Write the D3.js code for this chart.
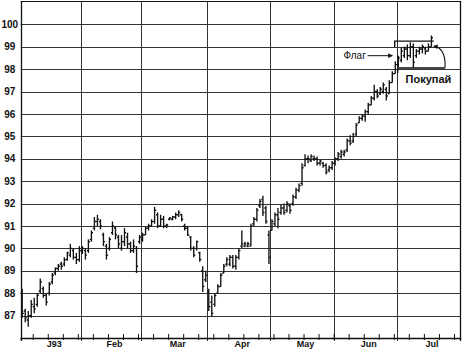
<!DOCTYPE html>
<html>
<head>
<meta charset="utf-8">
<script src="https://cdn.jsdelivr.net/npm/d3@7"></script>
<style>
  body { margin: 0; background: #fff; }
  svg { display: block; font-family: "Liberation Sans", Arial, sans-serif; }
</style>
</head>
<body>
<svg class="main" width="464" height="352"></svg>
<script>
var main = d3.select(".main");

var months = ["J93", "Feb", "Mar", "Apr", "May", "Jun", "Jul"];
var monthDays = [20, 20, 22, 21, 21, 21, 21];
var priceTicks = [87, 88, 89, 90, 91, 92, 93, 94, 95, 96, 97, 98, 99, 100];

// daily bars, one per trading day from early Jan
var highs = [
  88.2, 87.3, 87.2, 87.7, 87.8, 88.0, 88.65, 88.3, 88.0, 88.5,
  88.9, 89.15, 89.3, 89.4, 89.6, 89.85, 90.2, 90.0, 89.8, 90.1,
  90.1, 90.0, 90.4, 90.8, 91.4, 91.5, 91.3, 90.7, 90.2, 90.5,
  91.2, 91.0, 90.6, 90.6, 90.9, 90.7, 90.3, 90.4, 90.1, 90.6,
  90.7, 90.95, 91.1, 91.3, 91.85, 91.6, 91.5, 91.45, 91.1, 91.4,
  91.45, 91.6, 91.7, 91.55, 91.1, 91.0, 90.55, 90.1, 90.35, 89.85,
  89.2, 89.0, 88.2, 87.9, 88.0, 88.4, 88.9, 89.3, 89.6, 89.7,
  89.7, 89.7, 90.0, 90.8, 90.3, 90.3, 91.1, 91.4, 91.8, 92.2,
  92.35, 91.9, 90.8, 91.3, 91.6, 91.8, 91.95, 92.0, 92.1, 92.0,
  92.4, 92.7, 92.9, 93.8, 94.2, 94.15, 94.2, 94.15, 94.1, 93.95,
  93.85, 93.8, 93.7, 93.9, 94.05, 94.3, 94.4, 94.4, 94.9, 95.05,
  95.15, 95.6, 95.9, 96.0, 96.2, 96.5, 96.8, 97.3, 97.1, 97.2,
  97.4, 97.2, 97.5, 97.9, 98.35, 98.6, 98.95, 99.0, 99.1, 99.2,
  99.15, 98.9, 99.0, 99.1, 99.0, 99.15, 99.5
];
var lows = [
  86.9, 86.7, 86.5, 86.9, 87.1, 87.4, 88.0, 87.8, 87.45, 87.9,
  88.4, 88.8, 89.0, 89.05, 89.2, 89.45, 89.6, 89.5, 89.3, 89.4,
  89.75, 89.5, 89.8, 90.3, 90.8, 91.0, 90.85, 90.1, 89.5, 89.9,
  90.6, 90.4, 90.0, 89.9, 90.1, 90.0, 89.8, 89.8, 88.9, 90.2,
  90.3, 90.6, 90.8, 91.0, 91.1, 90.9, 90.95, 90.9, 90.9, 91.25,
  91.25, 91.3, 91.4, 91.2, 90.8, 90.55, 89.9, 89.6, 89.9, 89.4,
  88.05, 88.5, 87.2, 86.95, 87.4, 88.0, 88.3, 88.9, 89.2, 89.2,
  89.1, 89.05, 89.5, 90.0, 90.05, 90.05, 90.1, 91.0, 91.2, 91.8,
  91.45, 91.1, 89.3, 90.8, 91.0, 90.9, 91.5, 91.5, 91.6, 91.55,
  91.9, 92.2, 92.5, 92.8, 93.65, 93.8, 93.85, 93.9, 93.7, 93.7,
  93.6, 93.3, 93.4, 93.5, 93.7, 93.9, 94.0, 94.1, 94.3, 94.6,
  94.7, 95.0, 95.6, 95.7, 95.65, 96.0, 96.4, 96.6, 96.7, 96.85,
  96.9, 96.6, 96.9, 97.4, 97.8, 98.1, 98.3, 98.5, 98.4, 98.5,
  98.05, 98.5, 98.65, 98.7, 98.65, 98.8, 99.0
];
var opens = [
  88.0, 87.2, 86.8, 87.0, 87.4, 87.5, 88.1, 88.2, 87.9, 88.0,
  88.5, 88.9, 89.1, 89.3, 89.3, 89.5, 89.7, 89.9, 89.6, 89.5,
  89.9, 89.9, 89.9, 90.4, 90.9, 91.2, 91.2, 90.6, 90.1, 90.0,
  90.7, 90.9, 90.5, 90.0, 90.3, 90.5, 90.2, 89.9, 90.0, 90.3,
  90.4, 90.6, 90.9, 91.0, 91.2, 91.5, 91.0, 91.3, 91.0, 91.3,
  91.3, 91.4, 91.5, 91.5, 91.0, 90.9, 90.5, 90.0, 90.0, 89.8,
  89.0, 88.6, 88.0, 87.6, 87.5, 88.0, 88.3, 88.9, 89.3, 89.3,
  89.6, 89.2, 89.6, 90.1, 90.1, 90.1, 90.1, 91.1, 91.3, 91.9,
  92.2, 91.8, 90.6, 90.8, 91.1, 91.5, 91.6, 91.8, 91.7, 91.9,
  92.0, 92.3, 92.6, 92.9, 93.7, 94.0, 93.9, 94.0, 94.0, 93.8,
  93.8, 93.7, 93.5, 93.6, 93.8, 94.0, 94.1, 94.2, 94.4, 94.8,
  94.8, 95.1, 95.6, 95.8, 95.9, 96.1, 96.4, 96.7, 97.0, 96.9,
  97.0, 97.1, 96.9, 97.4, 97.8, 98.2, 98.4, 98.6, 98.9, 98.6,
  99.0, 98.6, 98.8, 98.9, 98.9, 98.8, 99.0
];
var closes = [
  87.1, 86.9, 87.0, 87.5, 87.3, 87.9, 88.5, 87.9, 87.6, 88.4,
  88.8, 89.1, 89.2, 89.2, 89.5, 89.8, 90.0, 89.6, 89.5, 89.9,
  90.0, 89.7, 90.3, 90.7, 91.2, 91.3, 91.0, 90.3, 89.7, 90.4,
  91.0, 90.6, 90.2, 90.3, 90.7, 90.2, 89.9, 90.1, 89.2, 90.5,
  90.6, 90.9, 91.0, 91.2, 91.7, 91.0, 91.3, 91.0, 91.05, 91.35,
  91.4, 91.5, 91.6, 91.3, 90.9, 90.6, 90.0, 89.7, 90.3, 89.5,
  88.3, 88.8, 87.4, 87.1, 87.9, 88.3, 88.8, 89.2, 89.5, 89.6,
  89.2, 89.6, 89.9, 90.2, 90.2, 90.2, 91.0, 91.3, 91.7, 92.1,
  91.6, 91.2, 89.6, 91.2, 91.5, 91.3, 91.8, 91.6, 92.0, 91.7,
  92.3, 92.6, 92.8, 93.6, 94.0, 94.0, 94.1, 94.0, 93.8, 93.9,
  93.7, 93.4, 93.6, 93.8, 94.0, 94.2, 94.3, 94.3, 94.8, 94.7,
  95.0, 95.5, 95.8, 95.9, 96.1, 96.4, 96.7, 97.0, 96.8, 97.1,
  97.3, 96.8, 97.4, 97.8, 98.2, 98.5, 98.8, 98.9, 98.6, 99.0,
  98.3, 98.8, 98.9, 99.0, 98.8, 99.0, 99.4
];

// flag pattern lines (price level, start day, end day)
var flagTop = [99.25, 124.3, 137.3];
var flagBottom = [98.05, 125.3, 141];

var totalDays = d3.sum(monthDays);
var monthStarts = Array.from(d3.cumsum([0].concat(monthDays)));

var x = d3.scaleLinear().domain([0, totalDays]).range([20.7, 460]);
var y = d3.scaleLinear().domain([86, 101.04]).range([338, 1]);

var ink = "#111", grid = "#333";

// horizontal grid
main.append("g").selectAll("line")
  .data(priceTicks)
  .join("line")
  .attr("x1", x(0)).attr("x2", x(totalDays))
  .attr("y1", function(d) { return Math.round(y(d)) + 0.5; })
  .attr("y2", function(d) { return Math.round(y(d)) + 0.5; })
  .attr("stroke", grid).attr("stroke-width", 1);

// top border
main.append("line")
  .attr("x1", x(0)).attr("x2", x(totalDays))
  .attr("y1", y(101.04) + 0.5).attr("y2", y(101.04) + 0.5)
  .attr("stroke", ink).attr("stroke-width", 1);

// month dividers (incl. left and right border)
main.append("g").selectAll("line")
  .data(monthStarts)
  .join("line")
  .attr("x1", function(d) { return Math.round(x(d)) + 0.5; })
  .attr("x2", function(d) { return Math.round(x(d)) + 0.5; })
  .attr("y1", y(101.04)).attr("y2", y(86) + 3)
  .attr("stroke", function(d, i) { return (i === 0 || i === monthStarts.length - 1) ? ink : grid; })
  .attr("stroke-width", function(d, i) { return (i === 0 || i === monthStarts.length - 1) ? 1.3 : 1; });

// x axis: weekly ticks
var weekTicks = d3.range(4, totalDays, 5);
var xAxis = main.append("g")
  .attr("transform", "translate(0," + y(86) + ")")
  .call(d3.axisBottom(x).tickValues(weekTicks).tickSize(2).tickFormat(""));
xAxis.select(".domain").attr("stroke", ink).attr("stroke-width", 1.3);
xAxis.selectAll(".tick line").attr("y1", -4).attr("y2", 2).attr("stroke", ink);

// month labels
var labelAxis = main.append("g")
  .attr("transform", "translate(0," + y(86) + ")")
  .call(d3.axisBottom(x)
    .tickValues(months.map(function(m, i) { return monthStarts[i] + monthDays[i] / 2 + 1; }))
    .tickFormat(function(d, i) { return months[i]; })
    .tickSize(0).tickPadding(3));
labelAxis.select(".domain").remove();
labelAxis.selectAll("text")
  .attr("font-family", "'Liberation Sans', Arial, sans-serif")
  .attr("font-size", 9).attr("font-weight", "bold").attr("fill", ink);

// price labels on the left
var yAxis = main.append("g")
  .call(d3.axisLeft(y).tickValues(priceTicks).tickSize(0));
yAxis.select(".domain").remove();
yAxis.selectAll("text")
  .attr("x", 9.8).attr("text-anchor", "middle")
  .attr("font-family", "'Liberation Sans', Arial, sans-serif")
  .attr("font-size", 10).attr("font-weight", "bold").attr("fill", ink);

// OHLC bars
var bars = main.append("g")
  .attr("stroke", ink).attr("stroke-width", 1.35)
  .selectAll("g")
  .data(highs.map(function(h, i) { return { i: i, h: h, l: lows[i], o: opens[i], c: closes[i] }; }))
  .join("g")
  .attr("transform", function(d) { return "translate(" + x(d.i + 0.5) + ",0)"; });

bars.append("line")
  .attr("x1", 0).attr("x2", 0)
  .attr("y1", function(d) { return y(d.h); })
  .attr("y2", function(d) { return y(d.l); });
bars.append("line")
  .attr("x1", -1.6).attr("x2", 0)
  .attr("y1", function(d) { return y(d.o); })
  .attr("y2", function(d) { return y(d.o); });
bars.append("line")
  .attr("x1", 0).attr("x2", 1.6)
  .attr("y1", function(d) { return y(d.c); })
  .attr("y2", function(d) { return y(d.c); });

// flag
var ann = main.append("g").attr("stroke", ink).attr("fill", "none");
ann.append("path")
  .attr("stroke-width", 1.4)
  .attr("d", "M" + x(flagTop[1]) + "," + (y(flagTop[0]) + 6) +
             "V" + y(flagTop[0]) + "H" + x(flagTop[2]));
ann.append("path")
  .attr("stroke-width", 1.4)
  .attr("d", "M" + x(flagBottom[1]) + "," + (y(flagBottom[0]) + 5) +
             "V" + y(flagBottom[0]) + "H" + x(flagBottom[2]));

// "Флаг" label with straight arrow
var arrowY = y(98.6);
main.append("text")
  .attr("x", x(114.7)).attr("y", arrowY + 3.5)
  .attr("text-anchor", "end")
  .attr("font-size", 10).attr("fill", ink)
  .text("Флаг");
ann.append("line")
  .attr("x1", x(115.3)).attr("x2", x(122.6))
  .attr("y1", arrowY).attr("y2", arrowY)
  .attr("stroke-width", 1);
main.append("path")
  .attr("fill", ink)
  .attr("d", "M" + x(123.8) + "," + arrowY + "l-5,-2.3v4.6z");

// "Покупай" with curved arrow to the breakout
main.append("text")
  .attr("x", x(127.9)).attr("y", y(97.38))
  .attr("font-size", 11).attr("font-weight", "bold").attr("fill", ink)
  .text("Покупай");
var cx0 = x(141), cy0 = y(98.05);
ann.append("path")
  .attr("stroke-width", 1.1)
  .attr("d", "M" + cx0 + "," + cy0 + "C" + (cx0 + 1) + "," + (cy0 - 12) + " " +
             (cx0 - 3) + "," + (cy0 - 19) + " " + (cx0 - 8) + "," + (cy0 - 21));
main.append("path")
  .attr("fill", ink)
  .attr("d", "M" + (cx0 - 12) + "," + (cy0 - 22) + "l5,-1.5l-0.8,4.5z");
</script>
</body>
</html>
